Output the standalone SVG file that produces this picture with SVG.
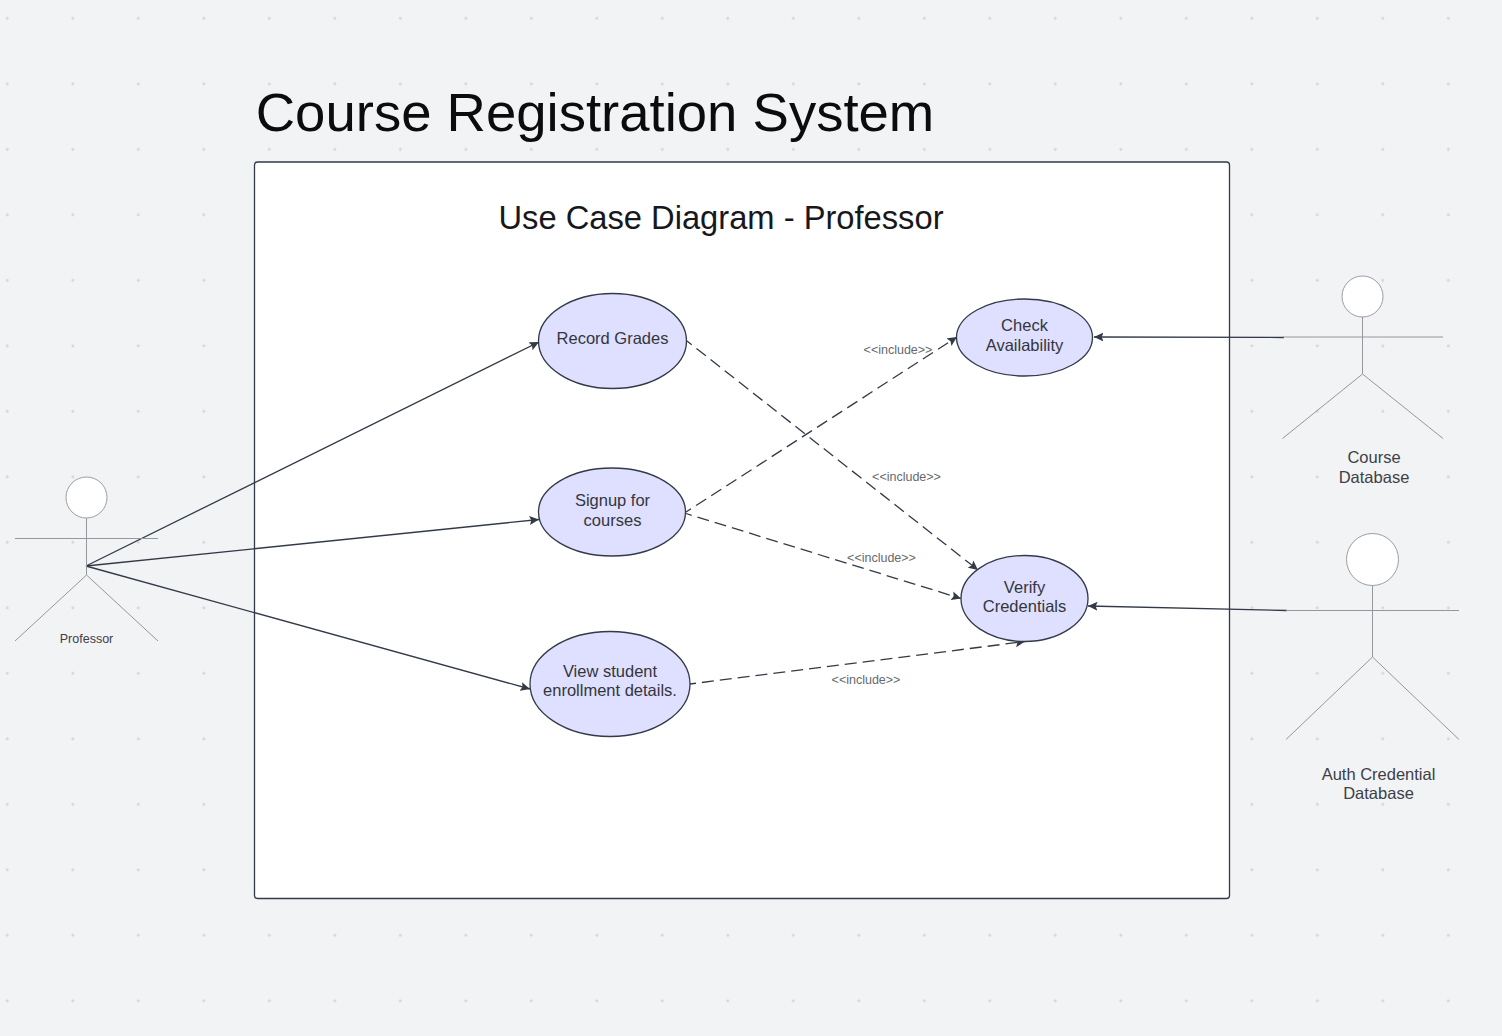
<svg xmlns="http://www.w3.org/2000/svg" width="1502" height="1036" viewBox="0 0 1502 1036">
<style>
text{font-family:"Liberation Sans",Arial,sans-serif;text-anchor:middle}
.uc ellipse{fill:#dfdfff;stroke:#333a47;stroke-width:1.300}
.uc text{font-size:16.500px;fill:#33363d}
.actor circle{fill:#fff;stroke:#9a9da3;stroke-width:1}
.actor path{fill:none;stroke:#94979c;stroke-width:1}
.actor text{font-size:16.500px;fill:#3d4046}
.lbl{font-size:12.500px;fill:#666a70}
.solid{fill:none;stroke:#333a47;stroke-width:1.300;marker-end:url(#arr)}
.dash{fill:none;stroke:#333a47;stroke-width:1.300;stroke-dasharray:12 6;stroke-dashoffset:6;marker-end:url(#arr)}
</style>
<defs>
<marker id="arr" markerWidth="11" markerHeight="10" refX="9.500" refY="5" orient="auto" markerUnits="userSpaceOnUse"><path d="M0 0.500L9.500 5L0 9.500L1.800 5Z" fill="#333a47"/></marker>
<pattern id="grid" x="7.300" y="18.300" width="65.500" height="65.500" patternUnits="userSpaceOnUse"><path d="M0 -1.500V1.500M-1.500 0H1.500M65.500 -1.500V1.500M64 0H67M0 64V67M-1.500 65.500H1.500M65.500 64V67M64 65.500H67" stroke="#b2b5ba" stroke-width="0.600" fill="none"/></pattern>
</defs>
<rect width="1502" height="1036" fill="#f2f3f5"/>
<rect width="1502" height="1036" fill="url(#grid)"/>
<text x="595" y="131" font-size="54.500" fill="#0c0c0e">Course Registration System</text>
<rect id="boundary" x="254.500" y="162" width="975" height="736.500" rx="3" fill="#fff" stroke="#333a47" stroke-width="1.300"/>
<text x="721" y="229" font-size="32.700" fill="#17181b">Use Case Diagram - Professor</text>
<g id="connectors">
<path class="solid" d="M86 566L539 342"/>
<path class="solid" d="M86 566L539 519.500"/>
<path class="solid" d="M86 566L530 689"/>
<path class="solid" d="M1284 337.500L1094 337"/>
<path class="solid" d="M1287 610.500L1088 606"/>
<path class="dash" d="M687 341L978 570"/>
<path class="dash" d="M686 512L957 337"/>
<path class="dash" d="M686 513.500L961 598.500"/>
<path class="dash" d="M690 684L1025 641.500"/>
<text class="lbl" x="898" y="354">&lt;&lt;include&gt;&gt;</text>
<text class="lbl" x="906.500" y="480.500">&lt;&lt;include&gt;&gt;</text>
<text class="lbl" x="881.500" y="561.500">&lt;&lt;include&gt;&gt;</text>
<text class="lbl" x="866" y="684">&lt;&lt;include&gt;&gt;</text>
</g>
<g id="record-grades" class="uc"><ellipse cx="612.500" cy="341" rx="74" ry="47.500"/><text x="612.500" y="344">Record Grades</text></g>
<g id="signup" class="uc"><ellipse cx="612" cy="512" rx="73.500" ry="44"/><text x="612.500" y="506">Signup for</text><text x="612.500" y="526">courses</text></g>
<g id="view-enrollment" class="uc"><ellipse cx="610" cy="684" rx="80" ry="52.500"/><text x="610" y="676.500">View student</text><text x="610" y="696">enrollment details.</text></g>
<g id="check-availability" class="uc"><ellipse cx="1024.500" cy="337.500" rx="68" ry="38.500"/><text x="1024.500" y="331">Check</text><text x="1024.500" y="350.500">Availability</text></g>
<g id="verify-credentials" class="uc"><ellipse cx="1024.500" cy="598.500" rx="63.500" ry="43"/><text x="1024.500" y="592.500">Verify</text><text x="1024.500" y="612">Credentials</text></g>
<g id="professor" class="actor"><circle cx="86.500" cy="497.500" r="20.500"/><path d="M86.500 518V575M15 538.500H158M15 641L86.500 575L158 641"/><text x="86.500" y="643" style="font-size:12.500px">Professor</text></g>
<g id="course-db" class="actor"><circle cx="1362.500" cy="296.500" r="20.500"/><path d="M1362.500 317V374M1283 337H1443M1282.500 438.500L1362.500 374L1443 438.500"/><text x="1374" y="463">Course</text><text x="1374" y="482.500">Database</text></g>
<g id="auth-db" class="actor"><circle cx="1372.500" cy="559.500" r="26"/><path d="M1372.500 585.500V657M1286 610.500H1459M1286 739.500L1372.500 657L1459 739.500"/><text x="1378.500" y="780">Auth Credential</text><text x="1378.500" y="799">Database</text></g>
</svg>
